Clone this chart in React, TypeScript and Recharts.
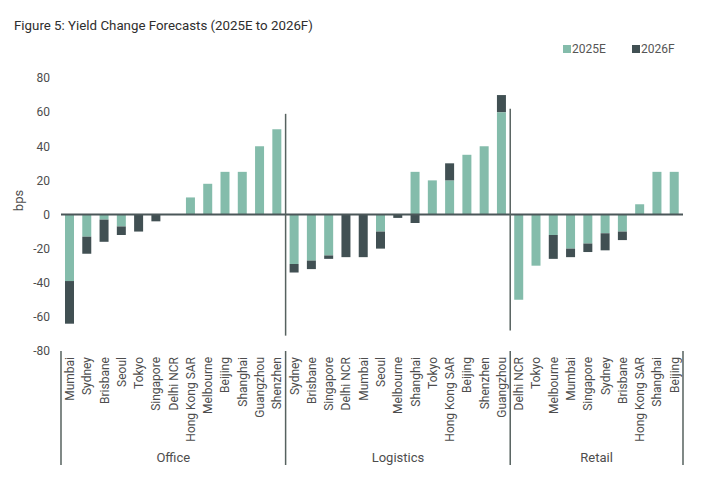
import React from 'react';
import { BarChart, Bar, XAxis, YAxis, ReferenceLine } from 'recharts';

// categories and values per sector (bps)
const officeCities = ['Mumbai', 'Sydney', 'Brisbane', 'Seoul', 'Tokyo', 'Singapore', 'Delhi NCR', 'Hong Kong SAR', 'Melbourne', 'Beijing', 'Shanghai', 'Guangzhou', 'Shenzhen'];
const office2025E = [-39, -13, -3, -7, 0, 0, 0, 10, 18, 25, 25, 40, 50];
const office2026F = [-25, -10, -13, -5, -10, -4, 0, 0, 0, 0, 0, 0, 0];

const logisticsCities = ['Sydney', 'Brisbane', 'Singapore', 'Delhi NCR', 'Mumbai', 'Seoul', 'Melbourne', 'Shanghai', 'Tokyo', 'Hong Kong SAR', 'Beijing', 'Shenzhen', 'Guangzhou'];
const logistics2025E = [-29, -27, -24, 0, 0, -10, 0, 25, 20, 20, 35, 40, 60];
const logistics2026F = [-5, -5, -2, -25, -25, -10, -2, -5, 0, 10, 0, 0, 10];

const retailCities = ['Delhi NCR', 'Tokyo', 'Melbourne', 'Mumbai', 'Singapore', 'Sydney', 'Brisbane', 'Hong Kong SAR', 'Shanghai', 'Beijing'];
const retail2025E = [-50, -30, -12, -20, -17, -11, -10, 6, 25, 25];
const retail2026F = [0, 0, -14, -5, -5, -10, -5, 0, 0, 0];

const yTicks = [-80, -60, -40, -20, 0, 20, 40, 60, 80];

const GREEN = '#84bcab';
const DARK = '#415053';
const TEXT = '#4d4d4d';
const FONT = 'Roboto, "Noto Sans", sans-serif';

const groups = [
  { name: 'Office', cities: officeCities, e: office2025E, f: office2026F },
  { name: 'Logistics', cities: logisticsCities, e: logistics2025E, f: logistics2026F },
  { name: 'Retail', cities: retailCities, e: retail2025E, f: retail2026F },
];

const data = groups.flatMap(g =>
  g.cities.map((c, i) => ({ key: `${g.name}|${c}`, e2025: g.e[i], f2026: g.f[i] }))
);

// where each group starts, and where its label sits
const groupStarts: number[] = [];
const groupLabels: Record<number, { name: string; even: boolean }> = {};
let idx = 0;
groups.forEach(g => {
  groupStarts.push(idx);
  const n = g.cities.length;
  groupLabels[idx + Math.floor((n - 1) / 2)] = { name: g.name, even: n % 2 === 0 };
  idx += n;
});
const lastIndex = data.length - 1;

const W = 714;
const H = 497;
const margin = { top: 78, right: 31, left: 0, bottom: 16 };
const yAxisWidth = 61;
const band = (W - margin.right - yAxisWidth) / data.length;

const CityTick = (props: any) => {
  const { x, y, payload } = props;
  const i = payload.index ?? props.index;
  const city = String(payload.value).split('|')[1];
  const lbl = groupLabels[i];
  return (
    <g transform={`translate(${x},${y})`}>
      <text
        transform="rotate(-90)"
        x={-6}
        y={0}
        dy="0.36em"
        textAnchor="end"
        fill={TEXT}
        fontSize={12}
        fontFamily={FONT}
      >
        {city}
      </text>
      {groupStarts.includes(i) && (
        <line x1={-band / 2} x2={-band / 2} y1={0} y2={114} stroke="#56625f" strokeWidth={1.5} />
      )}
      {i === lastIndex && (
        <line x1={band / 2} x2={band / 2} y1={0} y2={114} stroke="#56625f" strokeWidth={1.5} />
      )}
      {lbl && (
        <text
          x={lbl.even ? band / 2 : 0}
          y={111}
          textAnchor="middle"
          fill={TEXT}
          fontSize={13}
          fontFamily={FONT}
        >
          {lbl.name}
        </text>
      )}
    </g>
  );
};

const BpsLabel = (props: any) => {
  const { viewBox } = props;
  const cx = viewBox.x + 18;
  const cy = viewBox.y + viewBox.height / 2 - 14;
  return (
    <text
      transform={`translate(${cx},${cy}) rotate(-90)`}
      textAnchor="middle"
      dy="0.36em"
      fill={TEXT}
      fontSize={13}
      fontFamily={FONT}
    >
      bps
    </text>
  );
};

const legendItems = [
  { label: '2025E', color: GREEN, left: 563 },
  { label: '2026F', color: DARK, left: 632 },
];

export default function App() {
  return (
    <div style={{ position: 'absolute', left: 0, top: 0, width: W, height: H, background: '#fff', fontFamily: FONT }}>
      <div style={{ position: 'absolute', left: 14, top: 18, fontSize: 13.3, color: '#2e2e2e' }}>
        Figure 5: Yield Change Forecasts (2025E to 2026F)
      </div>
      {legendItems.map(it => (
        <div
          key={it.label}
          style={{ position: 'absolute', left: it.left, top: 42, display: 'flex', alignItems: 'center', fontSize: 12, color: '#555' }}
        >
          <span style={{ width: 8, height: 8, background: it.color, marginRight: 1 }} />
          <span>{it.label}</span>
        </div>
      ))}
      <BarChart width={W} height={H} data={data} margin={margin} stackOffset="sign" barSize={9}>
        <XAxis
          dataKey="key"
          interval={0}
          height={130}
          tickLine={false}
          axisLine={false}
          tickSize={0}
          tickMargin={0}
          tick={<CityTick />}
        />
        <YAxis
          width={yAxisWidth}
          domain={[-80, 80]}
          ticks={yTicks}
          tickLine={false}
          axisLine={false}
          tickMargin={5}
          tick={{ fill: TEXT, fontSize: 12, fontFamily: FONT }}
          label={<BpsLabel />}
        />
        <Bar dataKey="e2025" name="2025E" stackId="a" fill={GREEN} isAnimationActive={false} />
        <Bar dataKey="f2026" name="2026F" stackId="a" fill={DARK} isAnimationActive={false} />
        <ReferenceLine y={0} stroke="#4b5759" strokeWidth={2} />
        <ReferenceLine
          segment={[{ x: 'Office|Shenzhen', y: 59 }, { x: 'Office|Shenzhen', y: -71 }]}
          position="end"
          stroke="#56625f"
          strokeWidth={1.5}
        />
        <ReferenceLine
          segment={[{ x: 'Logistics|Guangzhou', y: 62 }, { x: 'Logistics|Guangzhou', y: -68 }]}
          position="end"
          stroke="#56625f"
          strokeWidth={1.5}
        />
      </BarChart>
    </div>
  );
}
